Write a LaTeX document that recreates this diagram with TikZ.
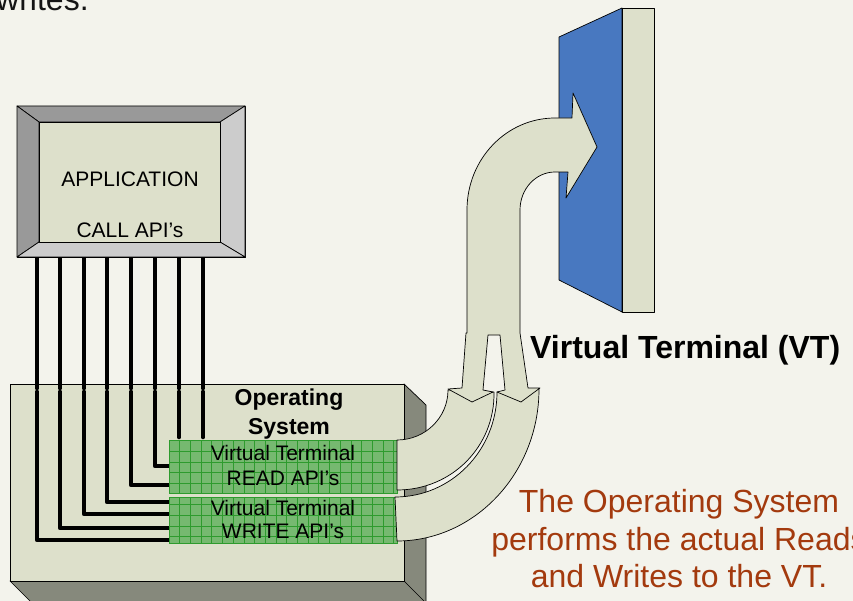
\documentclass[tikz,border=0pt]{standalone}
\usepackage{fontspec}
\setmainfont{Liberation Sans}
\definecolor{bg}{RGB}{243,243,236}
\definecolor{beige}{RGB}{221,224,203}
\definecolor{sidegray}{RGB}{134,137,124}
\definecolor{bevdark}{RGB}{153,153,153}
\definecolor{bevlight}{RGB}{204,204,204}
\definecolor{vtblue}{RGB}{72,120,192}
\definecolor{gfill}{RGB}{118,185,112}
\definecolor{gline}{RGB}{46,155,46}
\definecolor{notered}{RGB}{163,58,14}
\tikzset{
  outl/.style={draw=black, line width=0.7pt, line join=round},
  wire/.style={draw=black, line width=4.6pt, line cap=round, line join=round},
  gridln/.style={draw=gline, line width=0.8pt},
  gbox/.style={fill=gfill},
  txt/.style={inner sep=0pt, anchor=base, font=\fontsize{21}{25}\selectfont},
  btxt/.style={inner sep=0pt, anchor=base, font=\fontsize{23}{27}\selectfont\bfseries},
  redtxt/.style={inner sep=0pt, anchor=base, text=notered, font=\fontsize{32}{37}\selectfont},
}
\begin{document}
\begin{tikzpicture}[x=1pt,y=-1pt]
\clip (0,0) rectangle (853,601);
\fill[bg] (0,0) rectangle (853,601);

% cut-off title text
\node[inner sep=0pt, anchor=base west, font=\fontsize{32}{37}\selectfont, text={rgb,255:red,20;green,20;blue,20}] (title) at (-4,11) {writes.};

% ---------------- Operating System box ----------------
\filldraw[outl, fill=sidegray] (404,384) -- (426,405) -- (426,606) -- (404,581) -- cycle;
\filldraw[outl, fill=sidegray] (10,581) -- (404,581) -- (426,603) -- (32,603) -- cycle;
\filldraw[outl, fill=beige] (10,384) rectangle (404,581);
\node[btxt] (os1) at (289,405) {Operating};
\node[btxt] (os2) at (289,434) {System};

% ---------------- wires (lower parts) ----------------
\foreach \x/\y in {37/540, 60/528, 84/514, 107/502, 131/485, 155/466}
  \draw[wire] (\x,392) |- (170,\y);
\draw[wire] (179,392) -- (179,437);
\draw[wire] (203,392) -- (203,437);

% ---------------- green API boxes ----------------
\fill[gbox] (169,440) rectangle (397,493);
\fill[gbox] (169,497) rectangle (397,543);
\begin{scope}
  \clip (169,440) rectangle (397,493) (169,497) rectangle (397,543);
  \foreach \i in {0,...,22} \draw[gridln] ({169+\i*10.7},438) -- ({169+\i*10.7},545);
  \foreach \j in {0,...,10} \draw[gridln] (169,{440.5+\j*10.7}) -- (397,{440.5+\j*10.7});
\end{scope}
\draw[gline, line width=0.8pt] (169,440) rectangle (397,493);
\draw[gline, line width=0.8pt] (169,497) rectangle (397,543);
\node[txt] (r1) at (283,460) {Virtual Terminal};
\node[txt] (r2) at (283,485) {READ API’s};
\node[txt] (w1) at (283,515) {Virtual Terminal};
\node[txt] (w2) at (283,538) {WRITE API’s};

% ---------------- wires (upper parts) ----------------
\foreach \x in {37,60,84,107,131,155,179,203}
  \draw[wire] (\x,258) -- (\x,388);

% ---------------- Application box ----------------
\filldraw[outl, fill=beige] (17,106) rectangle (245,257);
\filldraw[outl, fill=bevdark] (17,106) -- (245,106) -- (220,122) -- (39,122) -- cycle;
\filldraw[outl, fill=bevdark] (17,106) -- (39,122) -- (39,242) -- (17,257) -- cycle;
\filldraw[outl, fill=bevlight] (245,106) -- (245,257) -- (220,242) -- (220,122) -- cycle;
\filldraw[outl, fill=bevlight] (17,257) -- (245,257) -- (220,242) -- (39,242) -- cycle;
\filldraw[outl, fill=beige] (39,122) rectangle (220,242);
\node[txt] (app) at (130,187) {APPLICATION};
\node[txt] (call) at (130,238) {CALL API’s};

% ---------------- Virtual Terminal panel ----------------
\filldraw[outl, fill=vtblue] (559,37) -- (622,8) -- (622,312) -- (559,280) -- cycle;
\filldraw[outl, fill=beige] (622,8) rectangle (654,312);
\node[inner sep=0pt, anchor=base west, font=\fontsize{32}{37}\selectfont\bfseries] (vt) at (530,358) {Virtual Terminal (VT)};

% ---------------- curved bands into the API boxes ----------------
\filldraw[outl, fill=beige] (395,497) .. controls (451.3,497) and (497,450.4) .. (497,392)
  -- (539,389) .. controls (539,472.8) and (474.9,541) .. (397,541) -- cycle;
\filldraw[outl, fill=beige] (397,440) .. controls (425.2,440) and (448,417.6) .. (448,390)
  -- (494,392) .. controls (495,446.6) and (451.7,490) .. (397,490) -- cycle;

% ---------------- big split arrow ----------------
\filldraw[outl, fill=beige]
  (448,389) -- (462,388) -- (466,333) -- (467,333) -- (467,210)
  .. controls (467,159) and (506.4,118) .. (555,118)
  -- (572,118) -- (573,93) -- (597,147) -- (566,198) -- (568,172) -- (555,172)
  .. controls (535.7,172) and (520,189) .. (520,210)
  -- (520,333) -- (528,388) -- (540,388) -- (521,402) -- (497,392) -- (505,390)
  -- (500,335) -- (488,335) -- (483,390) -- (493,392) -- (472,402) -- cycle;

% ---------------- note ----------------
\node[redtxt] (n1) at (679,512) {The Operating System};
\node[redtxt] (n2) at (679,550) {performs the actual Reads};
\node[redtxt] (n3) at (679,587) {and Writes to the VT.};
\end{tikzpicture}
\end{document}
